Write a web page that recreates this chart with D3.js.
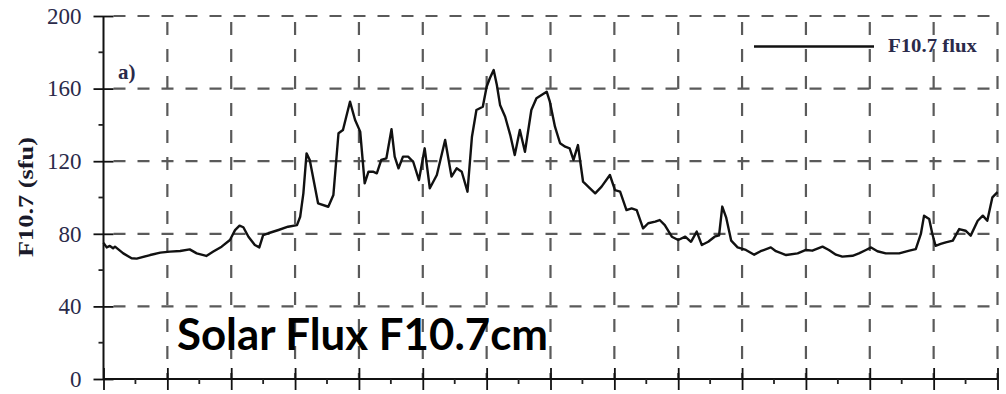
<!DOCTYPE html>
<html>
<head>
<meta charset="utf-8">
<script src="https://cdn.jsdelivr.net/npm/d3@7"></script>
<style>
  html, body { margin: 0; padding: 0; background: #fff; }
  svg { display: block; }
  .serif { font-family: "Liberation Serif", "Times New Roman", Tinos, Times, serif; }
</style>
</head>
<body>
<svg id="chart" width="1006" height="394"></svg>
<script>
// ---- data ----
const yTicks = [0, 40, 80, 120, 160, 200];
const xMajorTicks = d3.range(0, 15);       // 14 unlabeled intervals
const xMinorTicks = d3.range(0.5, 14, 1);
const yMinorTicks = [20, 60, 100, 140, 180];

const tPos = [0, 0.05, 0.10, 0.15, 0.18, 0.31, 0.44, 0.52, 0.73, 0.89, 1.04, 1.20, 1.35, 1.46, 1.61, 1.72, 1.85, 1.98, 2.06, 2.13, 2.19, 2.27, 2.37, 2.44, 2.50, 2.58, 2.74, 2.89, 3.03, 3.08, 3.13, 3.18, 3.23, 3.36, 3.52, 3.60, 3.68, 3.75, 3.86, 3.94, 4.02, 4.09, 4.15, 4.22, 4.28, 4.35, 4.43, 4.51, 4.56, 4.62, 4.69, 4.77, 4.85, 4.94, 5.03, 5.11, 5.22, 5.35, 5.45, 5.53, 5.61, 5.70, 5.77, 5.84, 5.94, 6.00, 6.05, 6.11, 6.16, 6.21, 6.29, 6.37, 6.44, 6.52, 6.60, 6.70, 6.78, 6.94, 6.99, 7.07, 7.15, 7.23, 7.30, 7.36, 7.43, 7.51, 7.59, 7.70, 7.80, 7.93, 8.01, 8.09, 8.19, 8.27, 8.35, 8.45, 8.53, 8.64, 8.71, 8.79, 8.90, 9.00, 9.11, 9.20, 9.29, 9.37, 9.47, 9.57, 9.64, 9.69, 9.75, 9.83, 9.93, 10.06, 10.19, 10.29, 10.45, 10.53, 10.69, 10.87, 11.00, 11.10, 11.26, 11.36, 11.47, 11.57, 11.73, 11.83, 11.94, 12.02, 12.12, 12.25, 12.46, 12.62, 12.72, 12.80, 12.85, 12.93, 12.98, 13.03, 13.11, 13.19, 13.30, 13.40, 13.50, 13.58, 13.69, 13.77, 13.84, 13.92, 14.00];
const f107 = [75, 72.5, 73.3, 72, 72.9, 69.2, 66.5, 66.3, 68.3, 69.6, 70.2, 70.5, 71.4, 69.2, 67.8, 70.2, 72.9, 76.6, 82, 84.5, 83.6, 78.4, 73.8, 72.5, 79.3, 80.3, 82.1, 83.9, 84.8, 89.4, 102.3, 124.3, 120.7, 96.8, 94.9, 101.4, 135.4, 137.2, 152.8, 142.7, 136.3, 107.8, 114.2, 114.2, 113.3, 120.7, 121.6, 137.6, 122.5, 116.1, 122.5, 122.5, 119.7, 109.6, 127.1, 105.1, 112.4, 131.7, 111.5, 116.1, 114.2, 103.2, 133.5, 148.2, 150, 161, 165.7, 170.2, 162, 151, 144.5, 134.4, 123.4, 137.2, 125.2, 148.2, 154.7, 158.3, 152.8, 139, 129.9, 128, 127.1, 120.7, 128.9, 108.7, 106, 102.3, 106, 112.4, 104.1, 103.2, 93.1, 94, 93.1, 83, 85.8, 86.7, 87.6, 84.8, 78.4, 76.6, 78.4, 75.6, 81.2, 73.8, 75.6, 78.4, 79.2, 95, 89.1, 76.2, 72.5, 71.1, 68.5, 70.4, 72.5, 70.4, 68.3, 69.2, 71.1, 70.7, 72.9, 71.1, 68.5, 67.4, 67.9, 69.2, 71.1, 72.5, 70.4, 69.2, 69.2, 70.7, 71.6, 79.9, 90, 88.2, 79.9, 73.4, 74.4, 75.3, 76.2, 82.6, 81.7, 79, 87.2, 90, 87.2, 100.1, 103];

const yLabel = "F10.7 (sfu)";
const panelLabel = "a)";
const legendLabel = "F10.7 flux";
const overlayTitle = "Solar Flux F10.7cm";

// ---- layout ----
const svg = d3.select("#chart");
const mLeft = 103.5, mRight = 997.5, mTop = 16, mBottom = 379;

const x = d3.scaleLinear().domain([0, 14]).range([mLeft, mRight]);
const y = d3.scaleLinear().domain([0, 200]).range([mBottom, mTop]);

const gridColor = "#5a5a5a";
const labelColor = "#2a2a4a";

// horizontal dashed gridlines
svg.append("g").selectAll("line")
  .data(yTicks.filter(d => d > 0))
  .join("line")
  .attr("x1", mLeft + 2).attr("x2", mRight)
  .attr("y1", d => y(d)).attr("y2", d => y(d))
  .attr("stroke", gridColor).attr("stroke-width", 2.2)
  .attr("stroke-dasharray", "12,12").attr("stroke-dashoffset", -8);

// vertical dashed gridlines
svg.append("g").selectAll("line")
  .data(xMajorTicks.filter(d => d > 0))
  .join("line")
  .attr("x1", d => x(d)).attr("x2", d => x(d))
  .attr("y1", mTop).attr("y2", mBottom)
  .attr("stroke", gridColor).attr("stroke-width", 2.2)
  .attr("stroke-dasharray", "13,14").attr("stroke-dashoffset", -6);

// y axis
const yAxis = svg.append("g")
  .attr("transform", `translate(${mLeft},0)`)
  .call(d3.axisLeft(y).tickValues(yTicks).tickSize(10).tickPadding(14).tickFormat(d3.format("d")));
yAxis.attr("font-family", null).attr("font-size", null);
yAxis.select(".domain").attr("d", `M0,${mTop}V${mBottom}`).attr("stroke", "#111").attr("stroke-width", 2);
yAxis.selectAll(".tick line").attr("x1", 10).attr("stroke", "#111").attr("stroke-width", 1.8);
yAxis.selectAll(".tick text")
  .attr("class", "serif")
  .attr("x", -22)
  .attr("font-size", 23).attr("fill", labelColor);

// y minor ticks
svg.append("g").selectAll("line")
  .data(yMinorTicks).join("line")
  .attr("x1", mLeft - 5).attr("x2", mLeft)
  .attr("y1", d => y(d)).attr("y2", d => y(d))
  .attr("stroke", "#222").attr("stroke-width", 1.8);

// x axis
const xAxis = svg.append("g")
  .attr("transform", `translate(0,${mBottom})`)
  .call(d3.axisBottom(x).tickValues(xMajorTicks).tickSize(11).tickFormat(""));
xAxis.select(".domain").attr("d", `M${mLeft},0H${mRight}`).attr("stroke", "#111").attr("stroke-width", 2);
xAxis.selectAll(".tick line").attr("y1", -11).attr("stroke", "#111").attr("stroke-width", 1.8);

// x minor ticks
svg.append("g").selectAll("line")
  .data(xMinorTicks).join("line")
  .attr("x1", d => x(d)).attr("x2", d => x(d))
  .attr("y1", mBottom).attr("y2", mBottom + 5)
  .attr("stroke", "#222").attr("stroke-width", 1.8);

// data line
const points = tPos.map((t, i) => [t, f107[i]]);
svg.append("path")
  .datum(points)
  .attr("fill", "none")
  .attr("stroke", "#111")
  .attr("stroke-width", 2.4)
  .attr("stroke-linejoin", "round")
  .attr("d", d3.line().x(d => x(d[0])).y(d => y(d[1])));

// y axis label
svg.append("text")
  .attr("class", "serif")
  .attr("transform", `translate(33,197) rotate(-90)`)
  .attr("text-anchor", "middle")
  .attr("font-weight", "bold")
  .attr("font-size", 20)
  .attr("fill", "#1a1a2a")
  .attr("textLength", 120).attr("lengthAdjust", "spacingAndGlyphs")
  .text(yLabel);

// panel label
svg.append("text")
  .attr("class", "serif")
  .attr("x", 118).attr("y", 79)
  .attr("font-weight", "bold")
  .attr("font-size", 21)
  .attr("fill", labelColor)
  .text(panelLabel);

// legend
svg.append("line")
  .attr("x1", 754).attr("x2", 874)
  .attr("y1", 46.5).attr("y2", 46.5)
  .attr("stroke", "#111").attr("stroke-width", 2.4);
svg.append("text")
  .attr("class", "serif")
  .attr("x", 888).attr("y", 52)
  .attr("font-weight", "bold")
  .attr("font-size", 18)
  .attr("fill", labelColor)
  .attr("textLength", 89).attr("lengthAdjust", "spacingAndGlyphs")
  .text(legendLabel);

// overlay title
svg.append("text")
  .attr("x", 177).attr("y", 350)
  .attr("font-family", "Lato, 'Open Sans', sans-serif")
  .attr("font-weight", "bold")
  .attr("font-size", 43)
  .attr("fill", "#000")
  .attr("textLength", 371).attr("lengthAdjust", "spacingAndGlyphs")
  .text(overlayTitle);
</script>
</body>
</html>
